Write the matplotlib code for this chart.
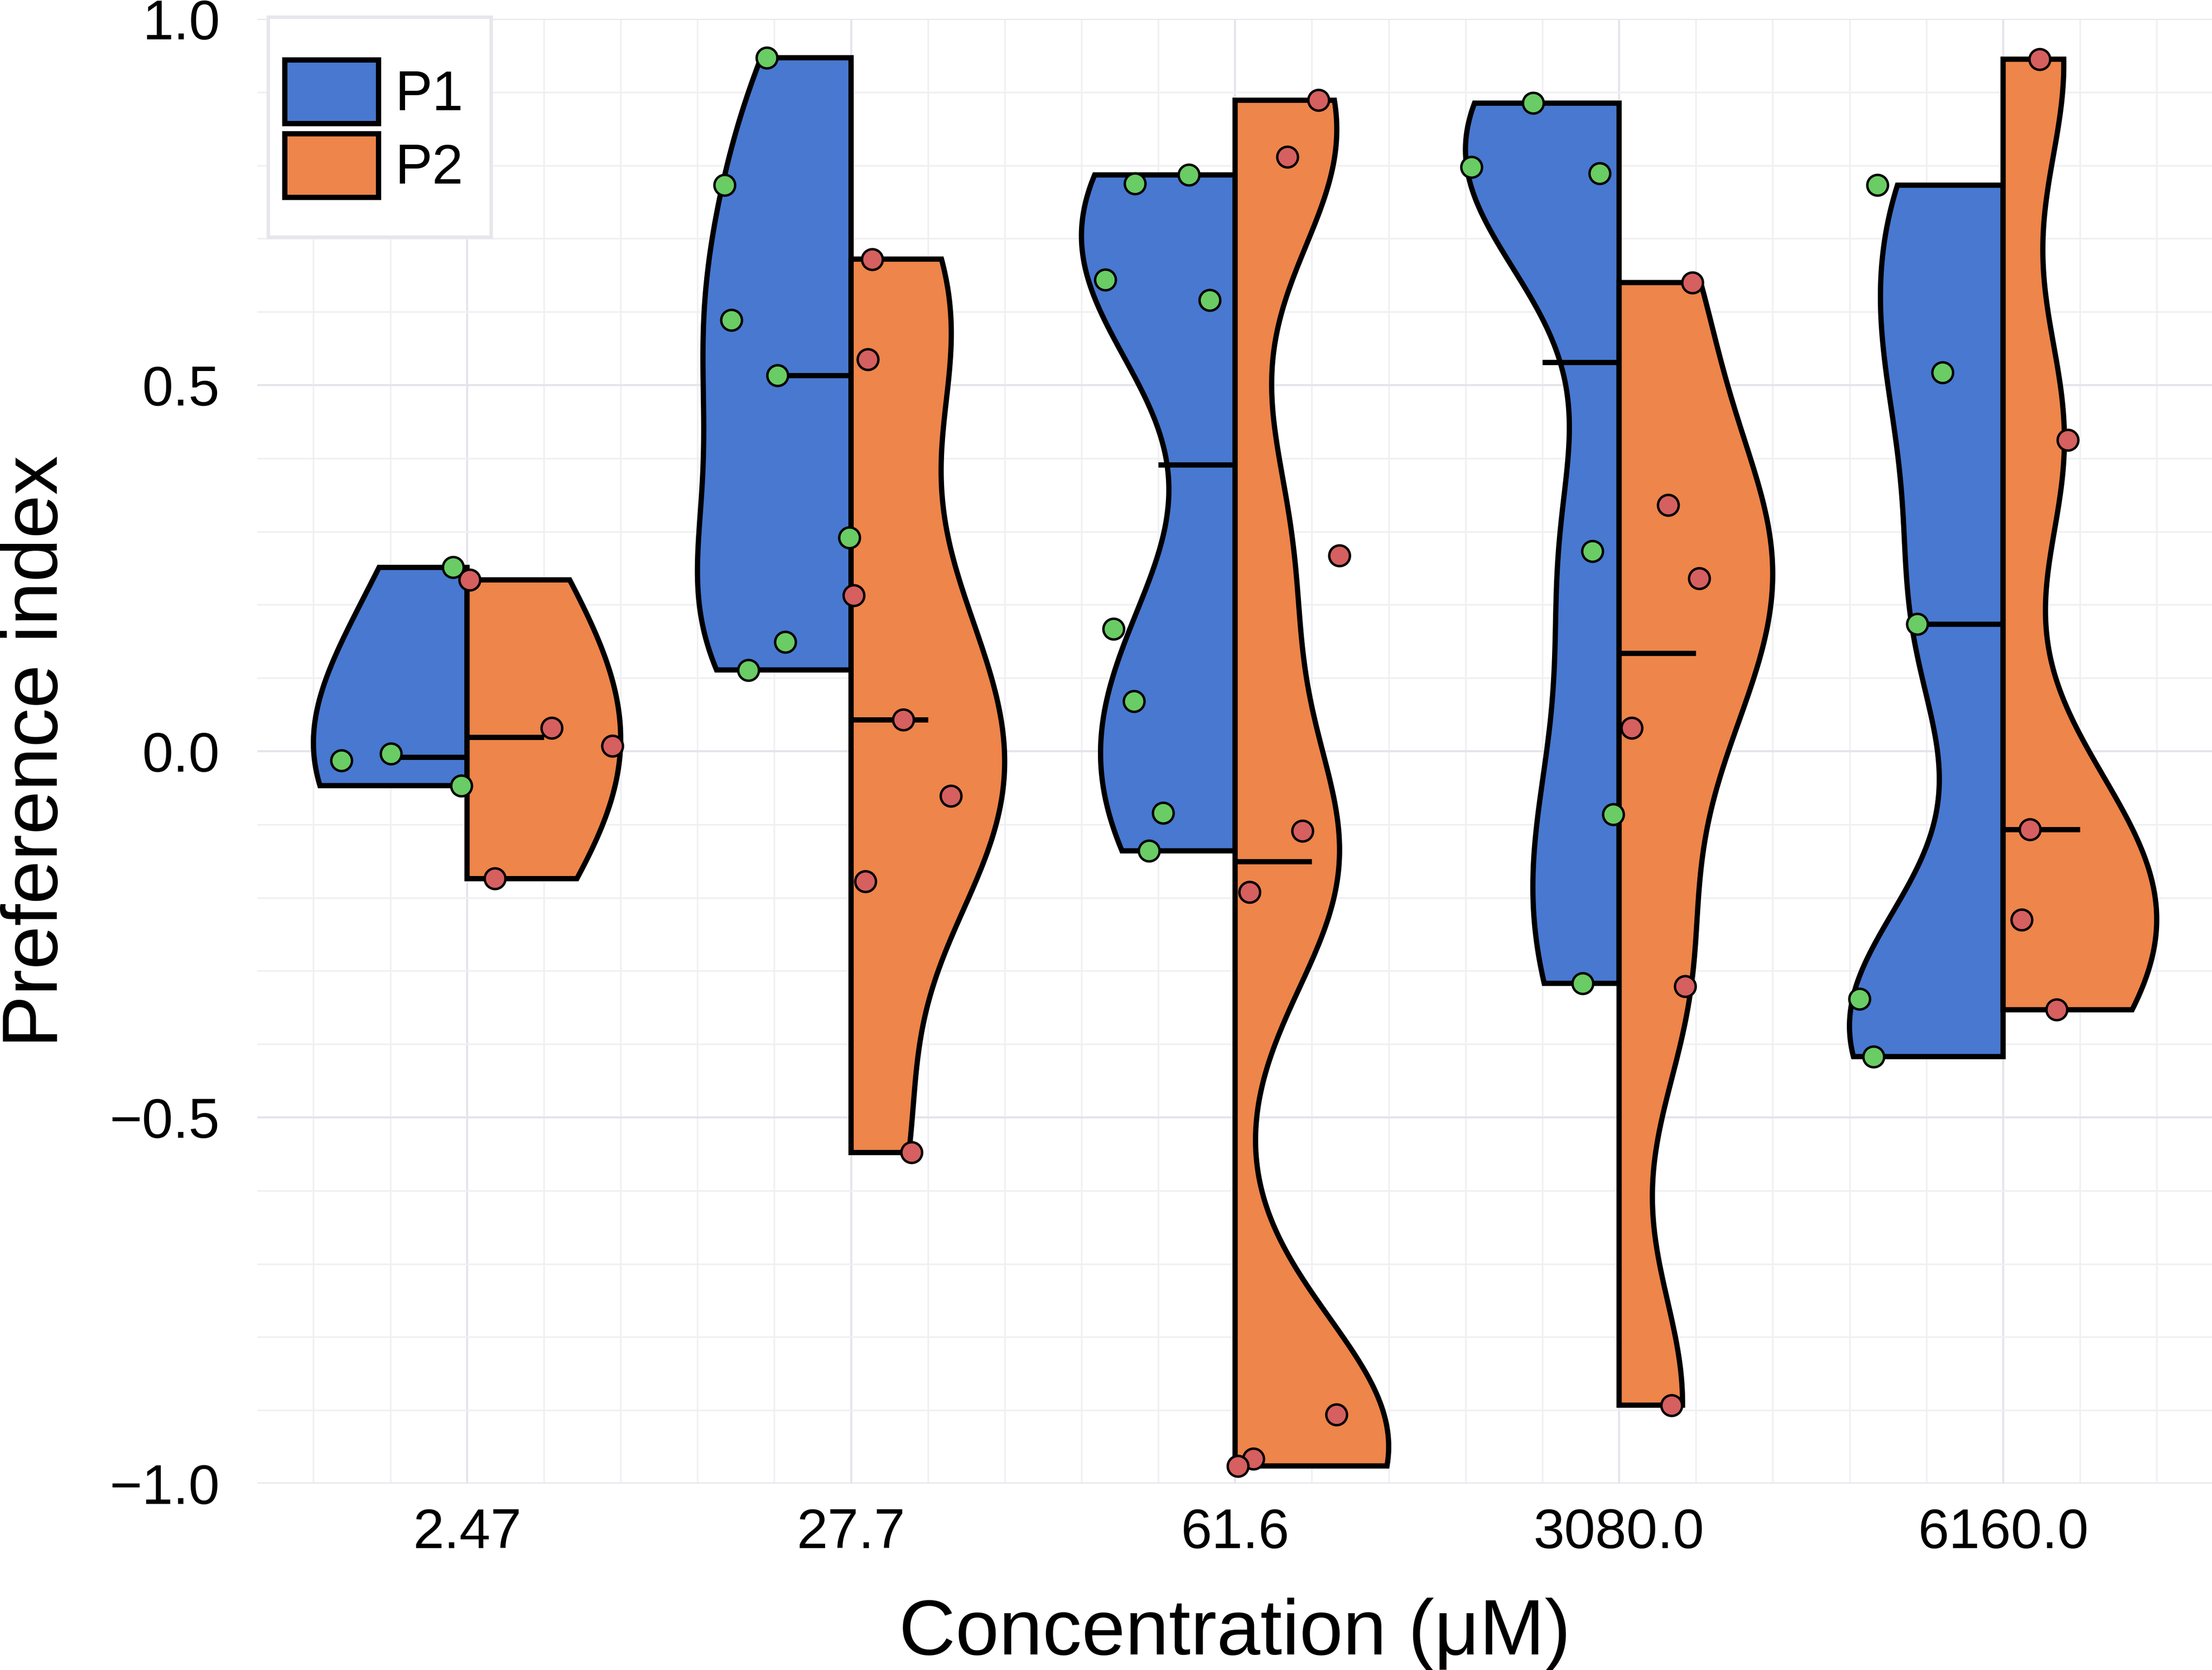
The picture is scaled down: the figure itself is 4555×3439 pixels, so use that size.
import numpy as np
import matplotlib
matplotlib.use('Agg')
import matplotlib.pyplot as plt
from matplotlib.patches import Polygon, Patch, Rectangle
from matplotlib.ticker import MultipleLocator, FixedLocator

plt.rcParams['font.family'] = ['Liberation Sans', 'DejaVu Sans']

# ---------------- data ----------------
categories = ['2.47', '27.7', '61.6', '3080.0', '6160.0']
group_names = ['P1', 'P2']

p1_values = [
    [-0.0125, -0.003, 0.251, -0.047],
    [0.947, 0.773, 0.589, 0.513, 0.292, 0.149, 0.111],
    [0.787, 0.775, 0.644, 0.616, 0.167, 0.068, -0.084, -0.136],
    [0.885, 0.798, 0.789, 0.273, -0.086, -0.317],
    [0.773, 0.517, 0.174, -0.338, -0.417],
]
p1_jitter = [
    [-0.327, -0.198, -0.037, -0.015],
    [-0.22, -0.33, -0.312, -0.191, -0.004, -0.172, -0.268],
    [-0.121, -0.261, -0.338, -0.066, -0.316, -0.264, -0.187, -0.224],
    [-0.224, -0.385, -0.051, -0.07, -0.015, -0.095],
    [-0.327, -0.158, -0.224, -0.374, -0.338],
]
p2_values = [
    [0.234, -0.174, 0.032, 0.007],
    [0.672, 0.535, 0.213, 0.043, -0.061, -0.178, -0.548],
    [0.889, 0.812, 0.267, -0.109, -0.192, -0.906, -0.966, -0.976],
    [0.640, 0.336, 0.236, 0.032, -0.321, -0.893],
    [0.945, 0.425, -0.107, -0.230, -0.353],
]
p2_jitter = [
    [0.007, 0.073, 0.22, 0.378],
    [0.055, 0.044, 0.007, 0.136, 0.26, 0.037, 0.158],
    [0.217, 0.136, 0.272, 0.176, 0.037, 0.264, 0.048, 0.007],
    [0.191, 0.128, 0.209, 0.033, 0.172, 0.136],
    [0.095, 0.169, 0.07, 0.048, 0.139],
]

violin_colors = ['#4878d0', '#ee854a']
point_colors = ['#6acc64', '#d65f5f']

# ---------------- figure ----------------
W, H, DPI = 4555, 3439, 300
fig = plt.figure(figsize=(W / DPI, H / DPI), dpi=DPI)
ax_l, ax_r, ax_t, ax_b = 530, 4555, 39, 3055
ax = fig.add_axes([ax_l / W, 1 - ax_b / H, (ax_r - ax_l) / W, (ax_b - ax_t) / H])

BW = 0.175
HALF_W = 0.4
MED_LEN = 0.2
LW = 2.6


def half_violin(ax, center, vals, side, color):
    vals = np.asarray(vals, dtype=float)
    lo, hi = vals.min(), vals.max()
    ys = np.linspace(lo, hi, 300)
    dens = np.exp(-0.5 * ((ys[:, None] - vals[None, :]) / BW) ** 2).sum(axis=1)
    w = dens / dens.max() * HALF_W
    verts = [(center + side * wi, yi) for wi, yi in zip(w, ys)]
    verts += [(center, hi), (center, lo)]
    poly = Polygon(verts, closed=True, facecolor=color, edgecolor='black',
                   linewidth=LW, joinstyle='miter', zorder=2)
    ax.add_patch(poly)
    med = np.median(vals)
    ax.plot([center, center + side * MED_LEN], [med, med], color='black',
            lw=LW, solid_capstyle='butt', zorder=2.5)


for i in range(len(categories)):
    half_violin(ax, i, p1_values[i], -1, violin_colors[0])
    half_violin(ax, i, p2_values[i], +1, violin_colors[1])

for i in range(len(categories)):
    for vals, jit, col in ((p1_values[i], p1_jitter[i], point_colors[0]),
                           (p2_values[i], p2_jitter[i], point_colors[1])):
        ax.scatter(np.array(jit) + i, vals, s=105, c=col, edgecolors='black',
                   linewidths=1.2, zorder=4, clip_on=False)

ax.set_xlim(-0.546, 4.544)
ax.set_ylim(-1.0, 1.0)

ax.xaxis.set_major_locator(FixedLocator(range(len(categories))))
ax.set_xticklabels(categories)
ax.xaxis.set_minor_locator(MultipleLocator(0.2))
ax.yaxis.set_major_locator(MultipleLocator(0.5))
ax.yaxis.set_minor_locator(MultipleLocator(0.1))
ax.yaxis.set_major_formatter(matplotlib.ticker.FuncFormatter(
    lambda v, p: ('\u2212' if v < 0 else '') + f'{abs(v):.1f}'))

ax.grid(which='major', color='#e4e4ea', linewidth=1.0, zorder=0)
ax.grid(which='minor', color='#f0f0f3', linewidth=0.8, zorder=0)
ax.set_axisbelow(True)
for s in ax.spines.values():
    s.set_visible(False)
ax.tick_params(which='both', length=0)
ax.tick_params(axis='x', labelsize=27.6, pad=12)
ax.tick_params(axis='y', labelsize=27.6, pad=18.5)

ax.set_xlabel('Concentration (\u03bcM)', fontsize=38.7, va='baseline')
ax.xaxis.set_label_coords(0.5, -(3407 - ax_b) / (ax_b - ax_t))
ax.set_ylabel('Preference index', fontsize=38.7, va='baseline', ha='center',
              rotation=90, rotation_mode='anchor')
ax.yaxis.set_label_coords((118 - ax_l) / (ax_r - ax_l), 0.5)

# legend frame
fig.patches.append(Rectangle((552 / W, 1 - 488 / H), (1011 - 552) / W, (488 - 35) / H,
                             transform=fig.transFigure, facecolor='white',
                             edgecolor='#e6e6ec', linewidth=1.7, zorder=5))
handles = [Patch(facecolor=c, edgecolor='black', linewidth=LW) for c in violin_colors]
leg = fig.legend(handles, group_names, loc='upper left',
                 bbox_to_anchor=(586 / W, 1 - 123 / H), bbox_transform=fig.transFigure,
                 frameon=False, fontsize=27.6, borderpad=0, borderaxespad=0,
                 handlelength=1.68, handleheight=1.375, handletextpad=0.3,
                 labelspacing=0.18)
leg.set_zorder(6)

fig.savefig('out.png', dpi=DPI)
